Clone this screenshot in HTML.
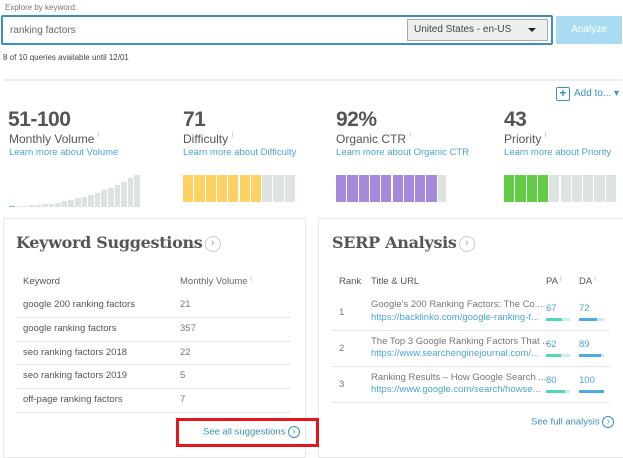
<!DOCTYPE html>
<html><head><meta charset="utf-8"><style>
*{margin:0;padding:0;box-sizing:border-box}
body{width:623px;height:449px;background:#fff;position:relative;overflow:hidden;font-family:"Liberation Sans",sans-serif;color:#555}
.a{position:absolute;white-space:nowrap}
.big{font-size:21px;font-weight:bold;color:#555;letter-spacing:-0.5px}
.lbl{font-size:12px;color:#555}
.lnk{font-size:9.5px;color:#4aa3d6}
.sup{font-size:7px;color:#aaa;vertical-align:top}
.bar{position:absolute}
.row{font-size:9.5px;color:#555}
.ln{position:absolute;height:1px;background:#e3e6e6}
.circ{display:inline-block;border:1.5px solid #ccc;border-radius:50%;color:#bbb;text-align:center;vertical-align:middle}
.ttl{font-family:'DejaVu Serif',serif;font-weight:bold;font-size:16px;color:#555;letter-spacing:-0.3px}
</style></head><body>
<div class="a" style="left:5px;top:3px;font-size:8px;color:#777">Explore by keyword:</div>
<div class="a" style="left:1px;top:15px;width:552px;height:30px;border:2px solid #3a90bd;border-radius:2px"></div>
<div class="a" style="left:10px;top:25px;font-size:10px;color:#666">ranking factors</div>
<div class="a" style="left:407px;top:19px;width:141px;height:22px;background:#eef0f0;border:1px solid #aaa"></div>
<div class="a" style="left:414px;top:24px;font-size:10px;color:#444">United States - en-US</div>
<div class="a" style="left:528px;top:28px;width:0;height:0;border-left:4px solid transparent;border-right:4px solid transparent;border-top:4px solid #222"></div>
<div class="a" style="left:556px;top:16px;width:66px;height:28px;background:#a9dcf2;color:#fff;font-size:10px;text-align:center;line-height:28px">Analyze</div>
<div class="a" style="left:3px;top:53px;font-size:8px;color:#444">8 of 10 queries available until 12/01</div>
<div class="ln" style="left:3px;top:79px;width:619px;height:2px;background:#eceeee"></div>
<div class="a" style="left:556px;top:87px;width:14px;height:14px;border:1.5px solid #3a90bd;border-radius:2px;color:#3a90bd;font-size:12px;font-weight:bold;text-align:center;line-height:11px">+</div>
<div class="a" style="left:574px;top:88px;font-size:10px;color:#3a90bd">Add to... ▾</div>

<div class="a big" style="left:8px;top:108px">51-100</div>
<div class="a lbl" style="left:9px;top:132px">Monthly Volume <span class="sup">i</span></div>
<div class="a lnk" style="left:9px;top:147px">Learn more about Volume</div>
<div class="a big" style="left:183px;top:108px">71</div>
<div class="a lbl" style="left:183px;top:132px">Difficulty <span class="sup">i</span></div>
<div class="a lnk" style="left:183px;top:147px">Learn more about Difficulty</div>
<div class="a big" style="left:336px;top:108px">92%</div>
<div class="a lbl" style="left:336px;top:132px">Organic CTR <span class="sup">i</span></div>
<div class="a lnk" style="left:336px;top:147px">Learn more about Organic CTR</div>
<div class="a big" style="left:504px;top:108px">43</div>
<div class="a lbl" style="left:504px;top:132px">Priority <span class="sup">i</span></div>
<div class="a lnk" style="left:504px;top:147px">Learn more about Priority</div>

<div id="bars"></div>

<div class="a" style="left:3px;top:218px;width:303px;height:240px;border:1px solid #e6e8e8"></div>
<div class="a" style="left:318px;top:218px;width:310px;height:240px;border:1px solid #e6e8e8"></div>
<div class="a ttl" style="left:16px;top:233px">Keyword Suggestions<span class="circ" style="width:16px;height:16px;font-size:11px;line-height:13px;font-family:'Liberation Sans';margin-left:2px">›</span></div>
<div class="a ttl" style="left:332px;top:233px">SERP Analysis<span class="circ" style="width:16px;height:16px;font-size:11px;line-height:13px;font-family:'Liberation Sans';margin-left:2px">›</span></div>

<div class="a row" style="left:23px;top:276px">Keyword</div>
<div class="a row" style="left:180px;top:276px;color:#666">Monthly Volume <span class="sup">i</span></div>
<div class="a row" style="left:23px;top:299px">google 200 ranking factors</div><div class="a row" style="left:180px;top:299px;color:#777">21</div>
<div class="a row" style="left:23px;top:323px">google ranking factors</div><div class="a row" style="left:180px;top:323px;color:#777">357</div>
<div class="a row" style="left:23px;top:347px">seo ranking factors 2018</div><div class="a row" style="left:180px;top:347px;color:#777">22</div>
<div class="a row" style="left:23px;top:370px">seo ranking factors 2019</div><div class="a row" style="left:180px;top:370px;color:#777">5</div>
<div class="a row" style="left:23px;top:394px">off-page ranking factors</div><div class="a row" style="left:180px;top:394px;color:#777">7</div>
<div class="ln" style="left:16px;top:317px;width:275px"></div>
<div class="ln" style="left:16px;top:341px;width:275px"></div>
<div class="ln" style="left:16px;top:364px;width:275px"></div>
<div class="ln" style="left:16px;top:388px;width:275px"></div>
<div class="ln" style="left:16px;top:412px;width:275px"></div>
<div class="a" style="left:176px;top:418px;width:143px;height:29px;border:3px solid #e8141b"></div>
<div class="a" style="left:203px;top:426px;font-size:9.5px;color:#3a90bd">See all suggestions <span class="circ" style="width:12px;height:12px;font-size:9px;line-height:9px;border-color:#3a90bd;color:#3a90bd">›</span></div>

<div class="a row" style="left:339px;top:276px">Rank</div>
<div class="a row" style="left:371px;top:276px">Title &amp; URL</div>
<div class="a row" style="left:546px;top:276px">PA <span class="sup">i</span></div>
<div class="a row" style="left:579px;top:276px">DA <span class="sup">i</span></div>

<div class="a row" style="left:339px;top:307px;color:#777">1</div>
<div class="a row" style="left:371px;top:299px;color:#777">Google's 200 Ranking Factors: The Co...</div>
<div class="a row" style="left:371px;top:312px;color:#4aa3d6">https://backlinko.com/google-ranking-f...</div>
<div class="a row" style="left:339px;top:343px;color:#777">2</div>
<div class="a row" style="left:371px;top:336px;color:#777">The Top 3 Google Ranking Factors That ...</div>
<div class="a row" style="left:371px;top:348px;color:#4aa3d6">https://www.searchenginejournal.com/...</div>
<div class="a row" style="left:339px;top:379px;color:#777">3</div>
<div class="a row" style="left:371px;top:372px;color:#777">Ranking Results – How Google Search ...</div>
<div class="a row" style="left:371px;top:384px;color:#4aa3d6">https://www.google.com/search/howse...</div>
<div class="a row" style="left:546px;top:303px;color:#4aa3d6">67</div><div class="a row" style="left:579px;top:303px;color:#4aa3d6">72</div>
<div class="a row" style="left:546px;top:339px;color:#4aa3d6">62</div><div class="a row" style="left:579px;top:339px;color:#4aa3d6">89</div>
<div class="a row" style="left:546px;top:375px;color:#4aa3d6">80</div><div class="a row" style="left:579px;top:375px;color:#4aa3d6">100</div>
<div id="pb"></div>
<div class="ln" style="left:332px;top:330px;width:278px"></div>
<div class="ln" style="left:332px;top:366px;width:278px"></div>
<div class="ln" style="left:332px;top:402px;width:278px"></div>
<div class="a" style="left:531px;top:416px;font-size:9.5px;color:#3a90bd">See full analysis <span class="circ" style="width:12px;height:12px;font-size:9px;line-height:9px;border-color:#3a90bd;color:#3a90bd">›</span></div>

<script>
var h='';
for(var i=0;i<20;i++){var x=9+i*6.6;var t=i==0?1:Math.round(1+Math.pow(i/19,2.2)*31);h+='<div class="bar" style="left:'+x+'px;top:'+(207-t)+'px;width:5.5px;height:'+t+'px;background:'+(i==0?'#6fc0e0':'#dde2e2')+'"></div>';}
for(var i=0;i<10;i++){h+='<div class="bar" style="left:'+(183+i*11.3)+'px;top:175px;width:10.3px;height:27px;background:'+(i<7?'#fdd163':'#dde2e2')+'"></div>';}
for(var i=0;i<10;i++){h+='<div class="bar" style="left:'+(336+i*11.3)+'px;top:175px;width:'+(i<9?10.3:8)+'px;height:27px;background:'+(i<9?'#a58adc':'#dde2e2')+'"></div>';}
for(var i=0;i<10;i++){h+='<div class="bar" style="left:'+(504+i*11.3)+'px;top:175px;width:10.3px;height:27px;background:'+(i<4?'#62cc46':'#dde2e2')+'"></div>';}
document.getElementById('bars').outerHTML=h;
var p='',pa=[67,62,80],da=[72,89,100],ys=[318,354,390];
for(var i=0;i<3;i++){p+='<div class="bar" style="left:546px;top:'+ys[i]+'px;width:24px;height:3px;background:#c8eef0"></div><div class="bar" style="left:546px;top:'+ys[i]+'px;width:'+(24*pa[i]/100)+'px;height:3px;background:#4fd6bd"></div><div class="bar" style="left:579px;top:'+ys[i]+'px;width:25px;height:3px;background:#cce8f6"></div><div class="bar" style="left:579px;top:'+ys[i]+'px;width:'+(25*da[i]/100)+'px;height:3px;background:#49ade0"></div>';}
document.getElementById('pb').outerHTML=p;
</script>
</body></html>
